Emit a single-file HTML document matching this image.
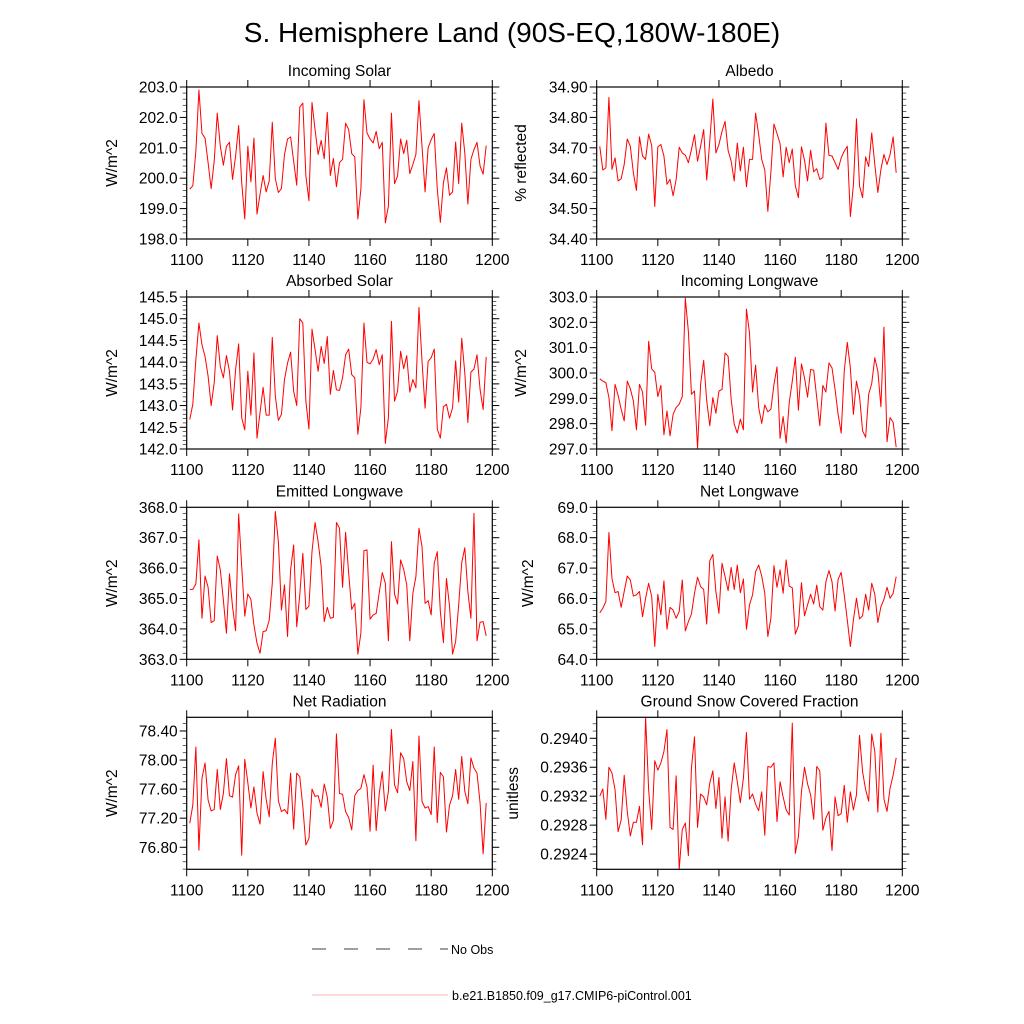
<!DOCTYPE html>
<html><head><meta charset="utf-8">
<style>
html,body{margin:0;padding:0;background:#fff;}
svg{display:block;font-family:"Liberation Sans",sans-serif;}
</style></head>
<body>
<svg id="chart" width="1024" height="1024" viewBox="0 0 1024 1024" xmlns="http://www.w3.org/2000/svg">
<rect width="1024" height="1024" fill="#fff"/>
<text x="512" y="42" font-size="28" text-anchor="middle">S. Hemisphere Land (90S-EQ,180W-180E)</text>
<g>
<line x1="312" y1="949" x2="448" y2="949" stroke="#000" stroke-width="0.8" stroke-dasharray="14,18"/>
<text x="451" y="954" font-size="12.5">No Obs</text>
<line x1="312" y1="995" x2="448" y2="995" stroke="#f00" stroke-width="0.6" opacity="0.6"/>
<text x="452" y="1000" font-size="12.5">b.e21.B1850.f09_g17.CMIP6-piControl.001</text>
</g>
</svg>
<script>
const startYear = 1101;
const xTicks = [1100,1120,1140,1160,1180,1200];
const incomingSolar = [199.64,199.75,200.89,202.90,201.47,201.32,200.51,199.66,200.56,202.14,201.05,200.43,201.05,201.18,199.96,200.73,201.73,199.85,198.66,201.05,199.88,201.32,198.82,199.47,200.09,199.55,199.91,201.84,199.98,199.53,199.66,200.78,201.29,201.36,200.56,199.77,202.34,202.47,200.07,199.26,202.49,201.60,200.78,201.24,200.64,202.16,200.09,200.65,199.72,200.51,200.62,201.81,201.60,200.81,200.70,198.66,199.64,202.58,201.49,201.29,201.16,201.54,200.97,201.18,198.53,199.09,202.14,199.82,200.07,201.29,200.81,201.25,200.15,200.45,200.78,202.55,201.05,199.55,201.00,201.27,201.47,199.64,198.55,199.85,200.34,199.44,199.55,201.19,199.82,201.81,200.83,199.15,200.62,200.94,201.18,200.40,200.13,201.07];
const albedo = [34.705,34.627,34.634,34.866,34.629,34.667,34.591,34.598,34.645,34.729,34.705,34.618,34.560,34.736,34.673,34.662,34.745,34.707,34.507,34.703,34.711,34.673,34.580,34.596,34.542,34.596,34.702,34.683,34.676,34.651,34.694,34.743,34.656,34.705,34.760,34.594,34.722,34.860,34.683,34.711,34.754,34.787,34.691,34.656,34.591,34.716,34.624,34.702,34.572,34.662,34.662,34.814,34.743,34.662,34.627,34.491,34.620,34.778,34.747,34.714,34.604,34.702,34.651,34.696,34.575,34.536,34.703,34.659,34.591,34.692,34.621,34.631,34.596,34.602,34.781,34.675,34.673,34.651,34.629,34.667,34.689,34.705,34.474,34.577,34.795,34.575,34.536,34.670,34.638,34.749,34.645,34.553,34.629,34.678,34.645,34.678,34.736,34.618];
const absorbedSolar = [142.68,143.03,144.06,144.90,144.40,144.13,143.68,143.00,143.52,144.61,143.90,143.64,144.15,143.79,142.90,143.83,144.42,142.72,142.44,143.79,142.78,144.21,142.25,142.84,143.42,142.78,142.78,144.57,143.22,142.66,142.80,143.60,143.98,144.23,143.33,143.00,145.00,144.90,143.10,142.46,144.76,144.29,143.79,144.36,143.97,144.59,143.26,143.81,143.36,143.35,143.64,144.17,144.30,143.71,143.64,142.34,142.95,144.90,144.00,143.96,144.07,144.29,143.94,144.17,142.13,142.72,144.94,143.10,143.33,144.25,143.85,144.15,143.31,143.60,143.41,145.26,144.02,142.94,144.02,144.10,144.30,142.46,142.25,142.97,143.03,142.71,142.95,144.03,143.08,144.55,143.75,142.61,143.77,143.84,144.17,143.37,142.91,144.12];
const incomingLW = [299.77,299.68,299.62,299.03,297.72,299.55,299.12,298.57,298.11,299.68,299.38,298.90,297.76,299.55,299.25,297.94,301.25,300.16,300.03,299.07,299.51,297.56,298.50,297.52,298.37,298.64,298.77,299.07,302.95,301.64,299.16,299.29,297.04,299.55,300.50,298.90,297.92,299.03,298.41,299.29,299.35,300.79,300.66,298.96,297.98,297.63,298.18,297.76,302.52,301.58,299.25,300.31,298.64,298.01,298.74,298.47,298.57,299.55,300.24,297.42,298.28,297.24,298.83,299.68,300.62,298.53,300.36,299.81,299.05,300.14,300.11,299.03,297.92,299.51,299.25,300.40,300.20,299.35,298.37,297.63,300.07,301.21,300.20,298.37,299.68,299.09,297.72,297.46,299.16,299.59,300.60,300.07,298.67,301.81,297.29,298.24,298.05,297.07];
const emittedLW = [365.30,365.30,365.48,366.93,364.35,365.74,365.37,364.21,364.27,366.40,365.94,364.95,363.86,365.81,364.73,363.94,367.78,366.05,364.42,365.15,364.97,364.13,363.53,363.20,363.91,363.94,364.29,365.50,367.86,366.87,364.62,365.45,363.75,365.94,366.76,364.07,365.12,366.49,364.64,364.75,366.54,367.50,366.87,366.05,364.24,364.71,364.35,364.38,367.50,367.31,365.37,367.18,365.83,364.64,364.84,363.17,363.86,366.57,366.60,364.32,364.46,364.51,365.19,365.85,365.50,363.61,366.87,365.15,364.82,366.27,365.96,365.45,363.61,365.17,365.72,367.31,366.71,364.84,364.93,364.46,366.16,366.54,364.57,363.55,365.66,364.75,363.17,363.58,364.79,366.18,366.67,365.23,364.35,367.80,363.61,364.22,364.24,363.77];
const netLW = [65.53,65.68,65.90,68.17,66.66,66.19,66.23,65.71,66.23,66.74,66.61,66.08,66.12,66.23,65.40,66.01,66.50,66.06,64.42,66.14,65.46,66.58,64.99,65.71,65.62,65.35,65.57,66.61,64.93,65.24,65.49,66.17,66.70,66.39,66.30,65.16,67.24,67.45,66.23,65.51,67.16,66.72,66.26,67.02,66.30,67.10,66.19,66.64,64.99,65.79,66.12,66.88,67.10,66.74,66.17,64.75,65.35,67.08,66.37,66.94,66.17,67.27,66.41,66.35,64.83,65.10,66.52,65.43,65.79,66.14,65.82,66.44,65.73,65.62,66.55,66.92,66.55,65.59,66.63,66.86,66.12,65.29,64.42,65.29,66.01,65.33,65.43,66.14,65.62,66.50,66.14,65.21,65.73,65.97,66.37,66.01,66.17,66.72];
const netRad = [77.13,77.38,78.18,76.76,77.75,77.96,77.45,77.30,77.32,77.87,77.32,77.54,78.02,77.51,77.49,77.80,77.92,76.69,78.01,77.69,77.34,77.63,77.27,77.12,77.84,77.46,77.22,77.95,78.30,77.44,77.29,77.32,77.26,77.82,77.05,77.82,77.77,77.36,76.83,76.92,77.60,77.50,77.51,77.35,77.67,77.49,77.06,77.17,78.36,77.54,77.53,77.29,77.21,77.04,77.51,77.58,77.61,77.80,77.63,77.02,77.93,77.03,77.54,77.84,77.30,77.57,78.42,77.66,77.55,78.10,78.02,77.70,77.58,77.98,76.89,78.33,77.43,77.34,77.36,77.25,78.18,77.14,77.83,77.77,77.01,77.38,77.51,77.87,77.46,78.05,77.57,77.40,78.03,77.89,77.82,77.41,76.71,77.41];
const snowFrac = [0.29320,0.29330,0.29288,0.29360,0.29352,0.29329,0.29271,0.29287,0.29349,0.29299,0.29265,0.29284,0.29284,0.29306,0.29253,0.29429,0.29329,0.29274,0.29369,0.29356,0.29366,0.29382,0.29412,0.29277,0.29274,0.29348,0.29219,0.29274,0.29283,0.29238,0.29359,0.29402,0.29277,0.29323,0.29319,0.29308,0.29338,0.29355,0.29303,0.29346,0.29262,0.29319,0.29258,0.29329,0.29366,0.29340,0.29311,0.29345,0.29408,0.29316,0.29323,0.29309,0.29300,0.29326,0.29266,0.29361,0.29360,0.29366,0.29285,0.29340,0.29319,0.29301,0.29294,0.29421,0.29241,0.29264,0.29326,0.29360,0.29337,0.29322,0.29288,0.29361,0.29355,0.29273,0.29290,0.29299,0.29245,0.29319,0.29293,0.29296,0.29335,0.29284,0.29326,0.29301,0.29322,0.29404,0.29354,0.29329,0.29313,0.29406,0.29382,0.29298,0.29407,0.29316,0.29299,0.29331,0.29349,0.29373];

const yTicks1 = ["198.0","199.0","200.0","201.0","202.0","203.0"];
const yTicks2 = ["34.40","34.50","34.60","34.70","34.80","34.90"];
const yTicks3 = ["142.0","142.5","143.0","143.5","144.0","144.5","145.0","145.5"];
const yTicks4 = ["297.0","298.0","299.0","300.0","301.0","302.0","303.0"];
const yTicks5 = ["363.0","364.0","365.0","366.0","367.0","368.0"];
const yTicks6 = ["64.0","65.0","66.0","67.0","68.0","69.0"];
const yTicks7 = ["76.80","77.20","77.60","78.00","78.40"];
const yTicks8 = ["0.2924","0.2928","0.2932","0.2936","0.2940"];

const NS = "http://www.w3.org/2000/svg";
const svg = document.getElementById('chart');
function mk(tag, attrs, parent){const e=document.createElementNS(NS,tag);for(const k in attrs)e.setAttribute(k,attrs[k]);parent.appendChild(e);return e;}

const panels = [
 {key:'incoming-solar',title:'Incoming Solar',ylab:'W/m^2',data:incomingSolar,ticks:yTicks1,ymin:198,ymax:203,minor:0.2,x0:186.7,y0:87,ylx:113},
 {key:'albedo',title:'Albedo',ylab:'% reflected',data:albedo,ticks:yTicks2,ymin:34.40,ymax:34.90,minor:0.02,x0:596.7,y0:87,ylx:522},
 {key:'absorbed-solar',title:'Absorbed Solar',ylab:'W/m^2',data:absorbedSolar,ticks:yTicks3,ymin:142,ymax:145.5,minor:0.1,x0:186.7,y0:297,ylx:113},
 {key:'incoming-longwave',title:'Incoming Longwave',ylab:'W/m^2',data:incomingLW,ticks:yTicks4,ymin:297,ymax:303,minor:0.2,x0:596.7,y0:297,ylx:522},
 {key:'emitted-longwave',title:'Emitted Longwave',ylab:'W/m^2',data:emittedLW,ticks:yTicks5,ymin:363,ymax:368,minor:0.2,x0:186.7,y0:507.3,ylx:113},
 {key:'net-longwave',title:'Net Longwave',ylab:'W/m^2',data:netLW,ticks:yTicks6,ymin:64,ymax:69,minor:0.2,x0:596.7,y0:507.3,ylx:529},
 {key:'net-radiation',title:'Net Radiation',ylab:'W/m^2',data:netRad,ticks:yTicks7,ymin:76.497,ymax:78.588,minor:0.1,x0:186.7,y0:717.3,ylx:113},
 {key:'snow-fraction',title:'Ground Snow Covered Fraction',ylab:'unitless',data:snowFrac,ticks:yTicks8,ymin:0.29219,ymax:0.29429,minor:0.0001,x0:596.7,y0:717.3,ylx:514}
];
const W=305.6, H=152;

panels.forEach(p=>{
  const g=mk('g',{},svg);
  
  
  const xs=v=>p.x0+(v-1100)/100*W;
  const ys=v=>p.y0+H-(v-p.ymin)/(p.ymax-p.ymin)*H;
  const nMin=Math.ceil(p.ymin/p.minor-1e-6), nMax=Math.floor(p.ymax/p.minor+1e-6);
  for(let k=nMin;k<=nMax;k++){
    const y=ys(k*p.minor);
    mk('line',{x1:p.x0-4,y1:y,x2:p.x0,y2:y,stroke:'#000','stroke-width':0.6},g);
    mk('line',{x1:p.x0+W,y1:y,x2:p.x0+W+4,y2:y,stroke:'#000','stroke-width':0.6},g);
  }
  p.ticks.forEach(t=>{
    const y=ys(parseFloat(t));
    mk('line',{x1:p.x0-7,y1:y,x2:p.x0,y2:y,stroke:'#000','stroke-width':1},g);
    mk('line',{x1:p.x0+W,y1:y,x2:p.x0+W+7,y2:y,stroke:'#000','stroke-width':1},g);
    const tx=mk('text',{x:p.x0-9,y:y+5.5,'font-size':15.5,'text-anchor':'end'},g);
    
    
    tx.textContent=t;
  });
  xTicks.forEach(t=>{
    const x=xs(t);
    mk('line',{x1:x,y1:p.y0+H,x2:x,y2:p.y0+H+7,stroke:'#000','stroke-width':1},g);
    mk('line',{x1:x,y1:p.y0-7,x2:x,y2:p.y0,stroke:'#000','stroke-width':1},g);
    const tx=mk('text',{x:x,y:p.y0+H+26,'font-size':15.5,'text-anchor':'middle'},g);
    
    
    tx.textContent=t;
  });
  const pts=p.data.map((v,i)=>xs(startYear+i).toFixed(2)+','+ys(v).toFixed(2)).join(' ');
  const pl=mk('polyline',{points:pts,fill:'none',stroke:'#f00','stroke-width':1,'stroke-linejoin':'round'},g);
  
  
  const fr=mk('rect',{x:p.x0,y:p.y0,width:W,height:H,fill:'none',stroke:'#000','stroke-width':1.2},g);
  
  
  const ti=mk('text',{x:p.x0+W/2,y:p.y0-11,'font-size':15.5,'text-anchor':'middle'},g);
  
  
  ti.textContent=p.title;
  const cy=p.y0+H/2;
  const yl=mk('text',{x:p.ylx,y:cy,'font-size':15.5,'text-anchor':'middle',transform:'rotate(-90 '+p.ylx+' '+cy+')','dominant-baseline':'middle'},g);
  
  
  yl.textContent=p.ylab;
});
</script>
</body></html>
